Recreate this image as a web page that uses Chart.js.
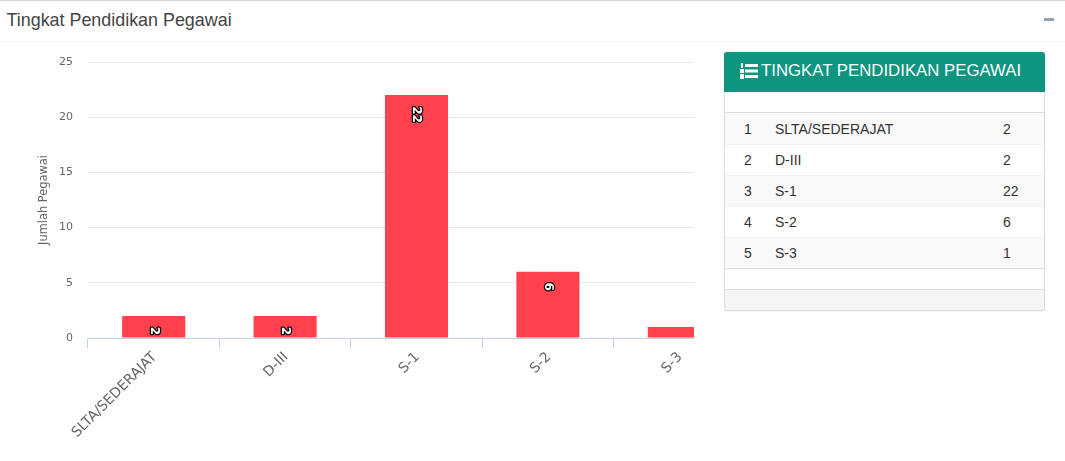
<!DOCTYPE html>
<html>
<head>
<meta charset="utf-8">
<title>Tingkat Pendidikan Pegawai</title>
<script src="https://cdn.jsdelivr.net/npm/chart.js@4"></script>
<style>
html, body { margin: 0; padding: 0; background: #fff; }
body { width: 1065px; height: 461px; position: relative; overflow: hidden; font-family: "Liberation Sans", Arial, sans-serif; color: #333; }
.topline { position: absolute; left: 0; top: 0; width: 100%; height: 1px; background: #d2d6de; }
.box-title { position: absolute; left: 6.5px; top: 10px; font-size: 17.9px; line-height: 20px; color: #444; }
.box-line { position: absolute; left: 0; top: 41px; width: 100%; height: 1px; background: #f4f4f4; }
.minus { position: absolute; left: 1044px; top: 18px; width: 10px; height: 3px; background: #97a0b3; }
.chart-wrap { position: absolute; left: 0; top: 0; width: 694px; height: 461px; overflow: hidden; }
.panel { position: absolute; left: 724px; top: 52px; width: 319px; height: 258px; border: 1px solid #ddd; border-top: 0; border-radius: 3px; box-shadow: 0 1px 1px rgba(0,0,0,.05); background: #fff; }
.panel-head { position: absolute; left: -1px; top: 0; width: 321px; height: 40px; background: #0d957f; border-radius: 3px 3px 0 0; color: #fff; font-size: 16.8px; line-height: 38px; }
.panel-head svg { position: absolute; left: 16px; top: 11px; }
.panel-head span { position: absolute; left: 37px; top: 0; white-space: nowrap; }
table { position: absolute; left: 0; top: 60px; width: 319px; border-collapse: collapse; font-size: 14px; border-top: 1px solid #ddd; border-bottom: 1px solid #ddd; }
td { height: 31px; padding: 0; line-height: 20px; }
tr + tr td { box-shadow: inset 0 1px 0 #f2f2f2; }
tr:nth-child(odd) { background: #f9f9f9; }
td.no { width: 50px; padding-left: 19px; box-sizing: border-box; }
td.val { width: 41px; }
.panel-foot { position: absolute; left: 0; top: 237px; width: 319px; height: 20px; background: #f5f5f5; border-top: 1px solid #ddd; border-radius: 0 0 3px 3px; }
</style>
</head>
<body>
<div class="topline"></div>
<div class="box-title">Tingkat Pendidikan Pegawai</div>
<div class="minus"></div>
<div class="box-line"></div>
<div class="chart-wrap"><canvas id="grafik" width="800" height="461"></canvas></div>
<div class="panel">
  <div class="panel-head">
    <svg width="18" height="16" viewBox="0 0 18 16"><g fill="#fff"><rect x="5" y="1" width="13" height="3"/><rect x="5" y="6.5" width="13" height="3"/><rect x="5" y="12" width="13" height="3"/><rect x="1" y="0" width="2" height="5"/><rect x="0" y="6" width="4" height="4"/><rect x="0" y="11" width="4" height="5"/></g></svg>
    <span>TINGKAT PENDIDIKAN PEGAWAI</span>
  </div>
  <table id="tabel"></table>
  <div class="panel-foot"></div>
</div>
<script>
const categories = ['SLTA/SEDERAJAT', 'D-III', 'S-1', 'S-2', 'S-3']
const jumlahPegawai = [2, 2, 22, 6, 1]
const barLabels = ['2', '2', '22', '6', '']
const yTicks = [0, 5, 10, 15, 20, 25]

// table on the right
const tabel = document.querySelector('#tabel')
categories.forEach((cat, i) => {
    const row = document.createElement('tr')
    const cells = [i + 1, cat, jumlahPegawai[i]]
    const classes = ['no', '', 'val']
    cells.forEach((value, j) => {
        const td = document.createElement('td')
        td.textContent = value
        td.className = classes[j]
        row.appendChild(td)
    })
    tabel.appendChild(row)
})

// white rotated numbers with black outline inside the bars
const barLabelPlugin = {
    id: 'barLabelPlugin',
    afterDatasetsDraw(chart) {
        const ctx = chart.ctx
        chart.getDatasetMeta(0).data.forEach((bar, i) => {
            if (!barLabels[i]) return
            ctx.save()
            ctx.translate(bar.x, bar.y + (barLabels[i].length * 4.5 + 10.5))
            ctx.rotate(Math.PI / 2)
            ctx.font = 'bold 12px "DejaVu Sans"'
            ctx.textAlign = 'center'
            ctx.textBaseline = 'middle'
            ctx.lineJoin = 'round'
            ctx.lineWidth = 2.5
            ctx.strokeStyle = '#000'
            ctx.strokeText(barLabels[i], 0, 0)
            ctx.fillStyle = '#fff'
            ctx.fillText(barLabels[i], 0, 0)
            ctx.restore()
        })
    }
}

const grafik = document.querySelector('#grafik')
new Chart(grafik, {
    type: 'bar',
    data: {
        labels: categories,
        datasets: [{
            label: 'Jumlah Pegawai',
            data: jumlahPegawai,
            backgroundColor: '#ff404d',
            barPercentage: 0.48,
            categoryPercentage: 1
        }]
    },
    options: {
        responsive: false,
        animation: false,
        devicePixelRatio: 1,
        layout: { padding: { top: 62, right: 55, left: 0, bottom: 0 } },
        plugins: { legend: { display: false }, tooltip: { enabled: false } },
        scales: {
            x: {
                afterFit: (scale) => { scale.height = 123 },
                border: { color: '#c0d0e0' },
                grid: { color: '#c0d0e0', drawOnChartArea: false, tickLength: 10, offset: true },
                ticks: {
                    color: '#666',
                    font: { family: '"DejaVu Sans"', size: 14 },
                    minRotation: 45,
                    maxRotation: 45,
                    labelOffset: 1,
                    padding: 1
                }
            },
            y: {
                min: 0,
                max: 25,
                afterFit: (scale) => { scale.width = 88 },
                afterBuildTicks: (scale) => { scale.ticks = yTicks.map((value) => ({ value })) },
                border: { display: false },
                grid: { color: '#e6e6e6', drawTicks: false },
                ticks: {
                    color: '#666',
                    font: { family: '"DejaVu Sans"', size: 11 },
                    padding: 15
                },
                title: {
                    display: true,
                    text: 'Jumlah Pegawai',
                    color: '#666',
                    font: { family: '"DejaVu Sans"', size: 11.4 },
                    padding: { top: 37, bottom: 0 }
                }
            }
        }
    },
    plugins: [barLabelPlugin]
})
</script>
</body>
</html>
